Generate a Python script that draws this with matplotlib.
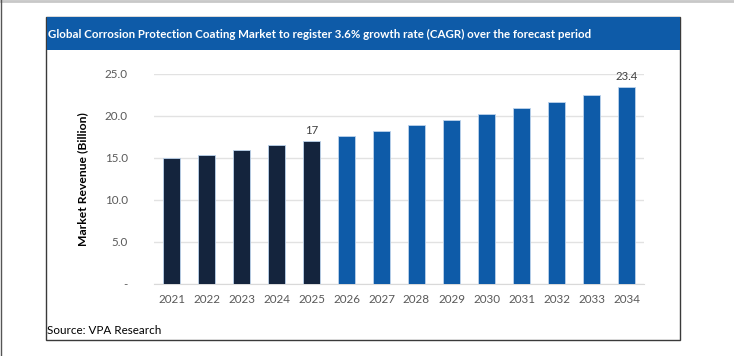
import matplotlib
matplotlib.use("Agg")
import matplotlib.pyplot as plt
from matplotlib.patches import Rectangle
from matplotlib.lines import Line2D

years = ["2021", "2022", "2023", "2024", "2025", "2026", "2027",
         "2028", "2029", "2030", "2031", "2032", "2033", "2034"]
revenue = [15.0, 15.4, 15.95, 16.5, 17.0, 17.6, 18.2,
           18.9, 19.5, 20.2, 21.0, 21.7, 22.5, 23.4]
n_history = 5  # 2021-2025 actuals, rest forecast
labeled = {"2025": "17", "2034": "23.4"}
yticks = [0, 5, 10, 15, 20, 25]
ytick_labels = ["-", "5.0", "10.0", "15.0", "20.0", "25.0"]

title = ("Global Corrosion Protection Coating Market to register 3.6% "
         "growth rate (CAGR) over the forecast period")
source = "Source: VPA Research"

W, H = 734, 356
navy = "#14243d"
blue = "#0e5ba8"
tick_grey = "#595959"

plt.rcParams["font.family"] = ["Lato", "DejaVu Sans"]

fig = plt.figure(figsize=(W / 100, H / 100), dpi=100)
fig.patch.set_facecolor("white")


def fx(px):
    return px / W


def fy(py):
    return 1 - py / H


# outer page lines (top and left)
fig.add_artist(Line2D([0, 1], [fy(1), fy(1)], color="#c8c8c8", lw=2,
                      transform=fig.transFigure))
fig.add_artist(Line2D([fx(0.5), fx(0.5)], [0, 1], color="#555555", lw=1,
                      transform=fig.transFigure))

# framed box
fig.add_artist(Rectangle((fx(46), fy(340)), fx(680) - fx(46), fy(17) - fy(340),
                         transform=fig.transFigure, facecolor="white",
                         edgecolor="#3a3a3a", lw=1, zorder=0))
# title bar
fig.add_artist(Rectangle((fx(46.5), fy(50)), fx(679.5) - fx(46.5), fy(17.5) - fy(50),
                         transform=fig.transFigure, facecolor=blue,
                         edgecolor="none", zorder=1))
fig.text(fx(48), fy(34), title, color="white", fontsize=8.3, fontweight="bold",
         ha="left", va="center", zorder=2)
fig.text(fx(47), fy(330), source, color="black", fontsize=8.4,
         ha="left", va="center")

ax = fig.add_axes([fx(154), fy(284), fx(644) - fx(154), fy(74) - fy(284)])
ax.set_facecolor("none")

x = list(range(len(years)))
colors = [navy if i < n_history else blue for i in x]
bars = ax.bar(x, revenue, width=0.5, color=colors, edgecolor="#bcd3ec",
              linewidth=0.6, zorder=3)

# value labels only on last actual year and last forecast year
for rect, yr in zip(bars, years):
    if yr in labeled:
        ax.text(rect.get_x() + rect.get_width() / 2, rect.get_height() + 0.6,
                labeled[yr], ha="center", va="bottom", fontsize=8.2,
                color="#404040", clip_on=False)

ax.set_xlim(-0.5, len(years) - 0.5)
ax.set_ylim(0, 25)
ax.set_yticks(yticks)
ax.set_yticklabels(ytick_labels)
ax.set_xticks(x)
ax.set_xticklabels(years)
ax.tick_params(axis="both", length=0, colors=tick_grey, labelsize=8.4)
ax.tick_params(axis="y", pad=19)
ax.tick_params(axis="x", pad=7)
ax.grid(axis="y", color="#e2e2e2", lw=1, zorder=0)
for side in ["top", "right", "left"]:
    ax.spines[side].set_visible(False)
ax.spines["bottom"].set_color("#d9d9d9")
ax.set_ylabel("Market Revenue (Billion)", fontsize=8.7, fontweight="bold",
              color="black", labelpad=12)

fig.savefig("out.png", dpi=100, facecolor="white")
